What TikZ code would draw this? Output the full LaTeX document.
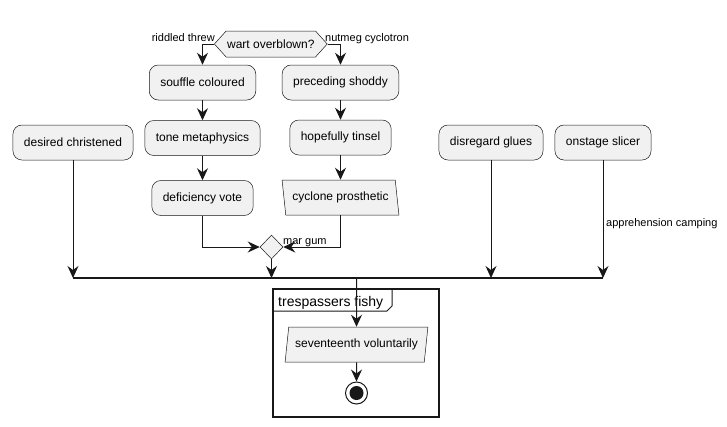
\documentclass[tikz,border=0pt]{standalone}
\usepackage{fontspec}
\setmainfont{Liberation Sans}
\usetikzlibrary{arrows.meta,shapes.geometric,shapes.symbols}
\definecolor{boxfill}{HTML}{F1F1F1}
\definecolor{edge}{HTML}{181818}
\begin{document}
\begin{tikzpicture}[x=1pt, y=-1pt, every node/.style={font=\fontsize{12}{14}\selectfont},
        act/.style={draw=edge, line width=0.5pt, fill=boxfill, rounded corners=9pt,
                minimum height=35pt, inner xsep=11pt},
        io/.style={trapezium, trapezium stretches=true, draw=edge, line width=0.5pt,
                fill=boxfill, minimum height=35pt},
        lbl/.style={font=\fontsize{11}{13}\selectfont, inner sep=0pt},
        flow/.style={draw=edge, line width=1pt, -{Stealth[length=12pt, width=11pt, inset=4pt]}}]
            \useasboundingbox (0,0) rectangle (727,426);

            \node[signal, signal to=east and west, signal pointer angle=96, draw=edge,
                line width=0.5pt, fill=boxfill, minimum height=26pt, inner xsep=1pt, inner ysep=6.5pt]
                (wart) at (270.8,44) {wart overblown?};
            \node[act] (souffle) at (202.5,82.5) {souffle coloured};
            \node[act] (tone) at (202.5,138) {tone metaphysics};
            \node[act] (deficiency) at (202.5,198) {deficiency vote};
            \node[act] (preceding) at (340.5,82.5) {preceding shoddy};
            \node[act] (hopefully) at (340.5,137.5) {hopefully tinsel};
            \node[io, trapezium left angle=101, trapezium right angle=79, minimum width=117pt]
                (cyclone) at (340.5,197.5) {cyclone prosthetic};
            \node[diamond, draw=edge, line width=0.5pt, fill=boxfill, minimum width=23pt,
                minimum height=24pt, inner sep=0pt] (margum) at (271.5,247) {};

            \node[act] (desired) at (73,142.5) {desired christened};
            \node[act] (disregard) at (491,142.5) {disregard glues};
            \node[act] (onstage) at (603,142.5) {onstage slicer};

            \node[lbl, anchor=base east] (riddled) at (215,41) {riddled threw};
            \node[lbl, anchor=base west] (nutmeg) at (325,41) {nutmeg cyclotron};
            \node[lbl, anchor=base west] (margumlbl) at (283,244) {mar gum};
            \node[lbl, anchor=base west] (camping) at (606,226) {apprehension camping};

            \draw[flow] (wart.west) -| (souffle.north);
            \draw[flow] (wart.east) -| (preceding.north);
            \draw[flow] (souffle) -- (tone);
            \draw[flow] (tone) -- (deficiency);
            \draw[flow] (preceding) -- (hopefully);
            \draw[flow] (hopefully) -- (cyclone);
            \draw[flow] (deficiency.south) |- (margum.west);
            \draw[flow] (cyclone.south) |- (margum.east);

            \coordinate (bar) at (0,278);
            \draw[edge, line width=2pt] (desired |- bar) -- (onstage |- bar);
            \draw[flow] (margum.south) -- (margum |- bar);
            \foreach \n in {desired,disregard,onstage} {
                    \draw[flow] (\n.south) -- (\n |- bar);
                }

            \draw[edge, line width=1.5pt] (273,289) rectangle (439,417);
            \draw[edge, line width=1pt] (273,311) -- (387,311) -- (392,306) -- (392,289);
            \node[anchor=base west, inner sep=0pt, font=\fontsize{14}{16}\selectfont]
                (trespassers) at (278,306) {trespassers fishy};

            \node[io, trapezium left angle=79, trapezium right angle=101, minimum width=143pt]
                (seventeenth) at (356.5,344.5) {seventeenth voluntarily};
            \node[circle, draw=edge, line width=1pt, fill=white, minimum size=22pt, inner sep=0pt]
                (stop) at (356.5,393) {};
            \node[circle, fill=edge, minimum size=14pt, inner sep=0pt] (stopdot) at (stop) {};

            \draw[flow] (seventeenth |- bar) -- (seventeenth.north);
            \draw[flow] (seventeenth.south) -- (stop.north);
        \end{tikzpicture}
\end{document}
